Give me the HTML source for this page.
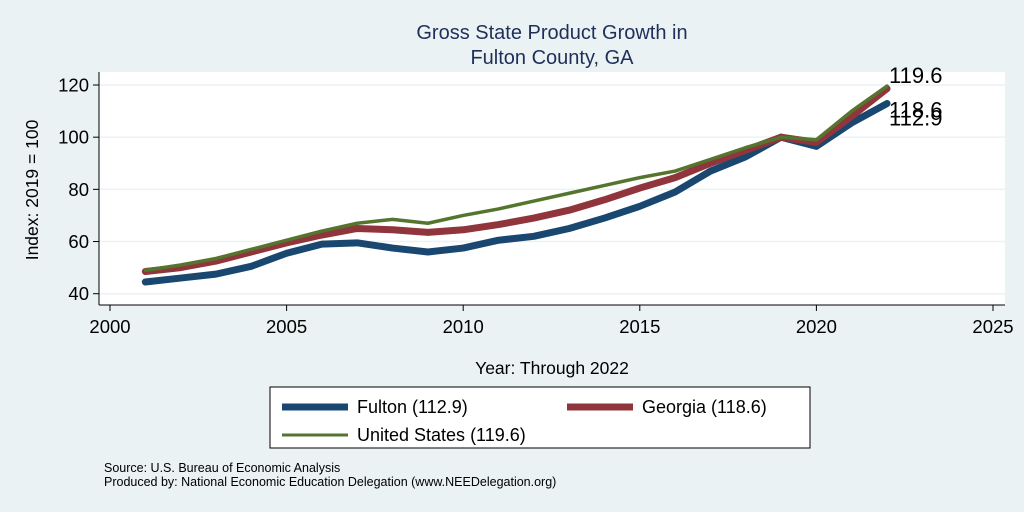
<!DOCTYPE html>
<html><head><meta charset="utf-8"><style>
body{margin:0;background:#eaf2f3;font-family:"Liberation Sans",sans-serif}
svg{display:block}
</style></head><body>
<svg width="1024" height="512" id="c">
<rect x="0" y="0" width="1024" height="512" fill="#eaf2f3"/>
<text x="552" y="39" font-size="20" fill="#1f2f5a" text-anchor="middle">Gross State Product Growth in</text>
<text x="552" y="64" font-size="20" fill="#1f2f5a" text-anchor="middle">Fulton County, GA</text>
<rect x="99" y="72" width="906" height="233" fill="#fff"/>
<g id="grid"></g><g id="axes"></g><g id="series"></g>
<text x="552" y="374" font-size="17.5" text-anchor="middle">Year: Through 2022</text>
<text transform="translate(38,190) rotate(-90)" font-size="17.5" text-anchor="middle">Index: 2019 = 100</text>
<g>
<rect x="270" y="387" width="540" height="61" fill="#fff" stroke="#000" stroke-width="1"/>
<line x1="282" y1="407" x2="348" y2="407" stroke="#1a476f" stroke-width="7"/>
<text x="357" y="413" font-size="18">Fulton  (112.9)</text>
<line x1="567" y1="407" x2="633" y2="407" stroke="#90353b" stroke-width="7"/>
<text x="642" y="413" font-size="18">Georgia (118.6)</text>
<line x1="282" y1="435" x2="348" y2="435" stroke="#55752f" stroke-width="3"/>
<text x="357" y="441" font-size="18">United States (119.6)</text>
</g>
<text x="104" y="472" font-size="12.5">Source: U.S. Bureau of Economic Analysis</text>
<text x="104" y="486" font-size="12.5">Produced by: National Economic Education Delegation (www.NEEDelegation.org)</text>
</svg>
<script>
const years=[2001,2002,2003,2004,2005,2006,2007,2008,2009,2010,2011,2012,2013,2014,2015,2016,2017,2018,2019,2020,2021,2022];
const fulton=[44.5,46,47.5,50.5,55.5,59,59.5,57.5,56,57.5,60.5,62,65,69,73.5,79,87,92.5,100,96.5,105.5,112.9];
const georgia=[48.5,50,52.5,56,59.5,62.5,65,64.5,63.5,64.5,66.5,69,72,76,80.5,84.5,90,95,100,98,108,118.6];
const us=[49,51,53.5,57,60.5,64,67,68.5,67,70,72.5,75.5,78.5,81.5,84.5,87,91.5,96,100,99,110,119.6];
const xTicks=[2000,2005,2010,2015,2020,2025];
const yTicks=[40,60,80,100,120];
const NS='http://www.w3.org/2000/svg';
const X=v=>110+(v-2000)*(883/25);
const Y=v=>293.7-(v-40)*(208.7/80);
function mk(t,a,p){const e=document.createElementNS(NS,t);for(const k in a)e.setAttribute(k,a[k]);p.appendChild(e);return e;}
const grid=document.getElementById('grid'),axes=document.getElementById('axes'),ser=document.getElementById('series');
yTicks.forEach(v=>{
 const g=mk('line',{x1:99,x2:1005,y1:Y(v),y2:Y(v),stroke:'#eaf2f3','stroke-width':1.5},grid);
 
 
 mk('line',{x1:93,x2:99,y1:Y(v),y2:Y(v),stroke:'#000'},axes);
 const t=mk('text',{x:89,y:Y(v)+6.5,'font-size':18.5,'text-anchor':'end'},axes);t.textContent=v;
 
 
});
xTicks.forEach(v=>{
 mk('line',{x1:X(v),x2:X(v),y1:305,y2:311,stroke:'#000'},axes);
 const t=mk('text',{x:X(v),y:333,'font-size':18.5,'text-anchor':'middle'},axes);t.textContent=v;
 
 
});
mk('line',{x1:99,x2:99,y1:72,y2:305,stroke:'#000'},axes);
mk('line',{x1:99,x2:1005,y1:305,y2:305,stroke:'#000'},axes);
function line(data,color,w,name){
 const p=mk('polyline',{points:data.map((v,i)=>X(years[i])+','+Y(v)).join(' '),fill:'none',stroke:color,'stroke-width':w,'stroke-linejoin':'round','stroke-linecap':'round'},ser);
 
 
}
line(fulton,'#1a476f',7,'line-fulton');
line(georgia,'#90353b',7,'line-georgia');
line(us,'#55752f',3.5,'line-us');
const offs={'label-us':-3,'label-georgia':29,'label-fulton':22};
[[us,'label-us'],[georgia,'label-georgia'],[fulton,'label-fulton']].forEach(([d,n])=>{
 const v=d[d.length-1];
 const t=mk('text',{x:X(2022)+2,y:Y(v)+offs[n],'font-size':22},ser);t.textContent=v.toFixed(1);
 
 
});
</script>
</body></html>
